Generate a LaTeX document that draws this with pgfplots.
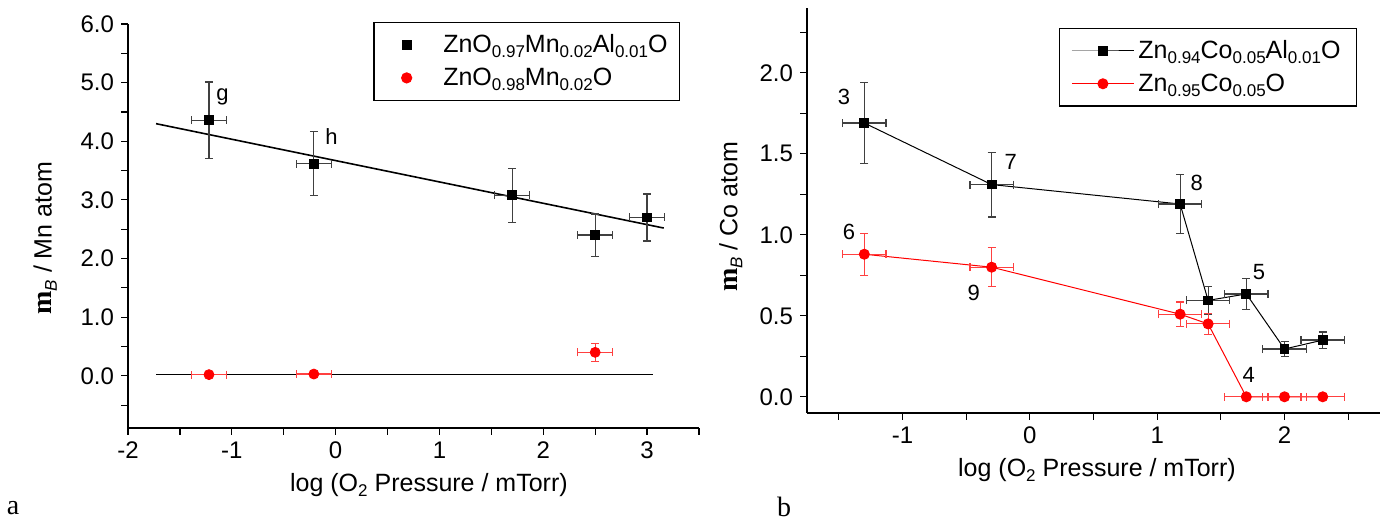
\documentclass[border=0pt]{standalone}
\usepackage{fontspec}
\setmainfont{Liberation Sans}
\newfontfamily\tnr{Liberation Serif}
\usepackage{pgfplots}
\pgfplotsset{compat=1.18}

% low, small subscripts as in the original figure
\newcommand\sub[1]{\raisebox{-2.6pt}{\fontsize{8.5}{9}\selectfont #1}}

\pgfplotsset{
  panel/.style={
    scale only axis,
    axis lines*=left,
    axis line style={line width=0.6pt},
    tick align=outside,
    major tick length=3.5pt,
    minor tick length=3.5pt,
    every tick/.style={black, line width=0.6pt},
    tick label style={font=\fontsize{12}{14}\selectfont},
    label style={font=\fontsize{12.5}{15}\selectfont},
    /pgf/number format/assume math mode=true,
    legend cell align=left,
    legend style={draw=black, line width=0.6pt, font=\fontsize{12.5}{15}\selectfont,
      row sep=2pt},
  },
  errs/.style={error bars/.cd, x dir=both, x explicit, y dir=both, y explicit,
    error bar style={#1, line width=0.6pt},
    error mark options={rotate=90, mark size=2pt, line width=0.6pt, #1}},
}

\begin{document}
\begin{tikzpicture}
\useasboundingbox (0,0) rectangle (695pt,264.5pt);

% panel a
\begin{axis}[panel, at={(64pt,50.5pt)}, anchor=south west,
  width=285.5pt, height=202pt,
  xmin=-2, xmax=3.5, ymin=-0.89, ymax=6.0,
  xtick={-2,...,3}, minor xtick={-1.5,-0.5,...,3.5},
  ytick={0,1,...,6}, minor ytick={-0.5,0.5,...,5.5},
  yticklabel style={/pgf/number format/.cd, fixed, fixed zerofill, precision=1},
  xlabel={log (O\sub{2} Pressure / mTorr)},
  ylabel={{\tnr\bfseries\fontsize{14}{15}\selectfont m}\sub{\itshape B} / Mn atom},
  xlabel style={at={(axis description cs:0.527,-0.141)}, anchor=center},
  ylabel style={at={(axis description cs:-0.145,0.47)}, anchor=center},
  legend style={at={(0.967,1.005)}, anchor=north east, inner xsep=4pt, inner ysep=4pt},
  legend image code/.code={\path (0pt,0pt) (28pt,0pt); \draw[#1] plot coordinates {(12pt,0pt)};},
]
\addplot[black, line width=0.8pt, forget plot] coordinates {(-1.73,4.30) (3.16,2.52)};
\addplot[black, line width=0.5pt, forget plot] coordinates {(-1.73,0.03) (3.06,0.03)};
\addplot[only marks, mark=square*, mark size=2.2pt, black, errs=black!75] coordinates {
  (-1.22,4.36) +- (0.17,0.65)
  (-0.21,3.62) +- (0.17,0.54)
  (1.70,3.08) +- (0.17,0.46)
  (2.50,2.40) +- (0.17,0.36)
  (3.00,2.70) +- (0.17,0.40)
};
\addlegendentry{ZnO\sub{0.97}Mn\sub{0.02}Al\sub{0.01}O}
\addplot[only marks, mark=*, mark size=2.5pt, red, errs=red!75] coordinates {
  (-1.22,0.02) +- (0.17,0)
  (-0.21,0.03) +- (0.17,0)
  (2.50,0.40) +- (0.17,0.15)
};
\addlegendentry{ZnO\sub{0.98}Mn\sub{0.02}O}
\node[font=\fontsize{11}{13}\selectfont] at (axis cs:-1.09,4.75) {g};
\node[font=\fontsize{11}{13}\selectfont] at (axis cs:-0.04,4.08) {h};
\end{axis}

% panel b
\begin{axis}[panel, at={(403.5pt,58pt)}, anchor=south west,
  width=286.5pt, height=202.5pt,
  xmin=-1.75, xmax=2.75, ymin=-0.1, ymax=2.4,
  xtick={-1,0,1,2}, minor xtick={-1.5,-0.5,...,2.5},
  ytick={0,0.5,...,2}, minor ytick={0.25,0.75,...,2.25},
  yticklabel style={/pgf/number format/.cd, fixed, fixed zerofill, precision=1},
  xlabel={log (O\sub{2} Pressure / mTorr)},
  ylabel={{\tnr\bfseries\fontsize{14}{15}\selectfont m}\sub{\itshape B} / Co atom},
  xlabel style={at={(axis description cs:0.506,-0.141)}, anchor=center},
  ylabel style={at={(axis description cs:-0.133,0.484)}, anchor=center},
  legend style={at={(0.960,0.951)}, anchor=north east, inner xsep=6pt, inner ysep=4pt},
  legend image code/.code={\draw[mark repeat=2, mark phase=2, #1] plot coordinates {(0pt,0pt) (15.5pt,0pt) (31pt,0pt)};},
]
\addplot[black, line width=0.5pt, mark=square*, mark size=2.2pt, mark options={solid}, errs=black!75] coordinates {
  (-1.3,1.69) +- (0.17,0.25)
  (-0.3,1.31) +- (0.17,0.20)
  (1.18,1.19) +- (0.17,0.18)
  (1.40,0.595) +- (0.17,0.085)
  (1.70,0.635) +- (0.17,0.095)
  (2.00,0.295) +- (0.17,0.045)
  (2.30,0.35) +- (0.17,0.05)
};
\addlegendentry{Zn\sub{0.94}Co\sub{0.05}Al\sub{0.01}O}
\addplot[red, line width=0.5pt, mark=*, mark size=2.5pt, errs=red!75] coordinates {
  (-1.3,0.88) +- (0.17,0.13)
  (-0.3,0.80) +- (0.17,0.12)
  (1.18,0.51) +- (0.17,0.075)
  (1.40,0.45) +- (0.17,0.065)
  (1.70,0) +- (0.17,0)
  (2.00,0) +- (0.17,0)
  (2.30,0) +- (0.17,0)
};
\addlegendentry{Zn\sub{0.95}Co\sub{0.05}O}
\node[font=\fontsize{11}{13}\selectfont] at (axis cs:-1.46,1.85) {3};
\node[font=\fontsize{11}{13}\selectfont] at (axis cs:-0.15,1.45) {7};
\node[font=\fontsize{11}{13}\selectfont] at (axis cs:1.31,1.32) {8};
\node[font=\fontsize{11}{13}\selectfont] at (axis cs:-1.42,1.02) {6};
\node[font=\fontsize{11}{13}\selectfont] at (axis cs:-0.44,0.64) {9};
\node[font=\fontsize{11}{13}\selectfont] at (axis cs:1.80,0.77) {5};
\node[font=\fontsize{11}{13}\selectfont] at (axis cs:1.72,0.136) {4};
\end{axis}

\node[font=\tnr\fontsize{14}{16}\selectfont] at (6.5pt,10.5pt) {a};
\node[font=\tnr\fontsize{14}{16}\selectfont] at (392pt,11pt) {b};
\end{tikzpicture}
\end{document}
